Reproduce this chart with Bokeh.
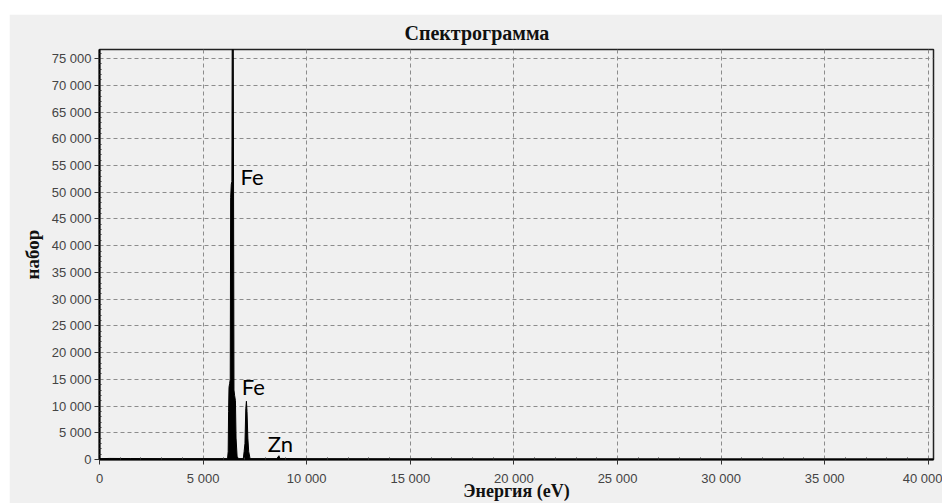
from bokeh.plotting import figure
from bokeh.models import ColumnDataSource, Range1d, FixedTicker, Title
from bokeh.core.properties import value
from bokeh.embed import file_html
from bokeh.resources import INLINE

# spectrum (energy in eV, counts)
energy = [0, 500, 1500, 3000, 5000, 6180, 6210, 6230, 6250, 6280, 6310, 6330, 6360, 6390,
          6410, 6450, 6470, 6490, 6520, 6560, 6590, 6640, 6700,
          6940, 6980, 7020, 7060, 7090, 7120, 7160, 7200, 7260, 7300,
          8560, 8620, 8660, 8700, 10000, 15000, 20000, 30000, 40000, 40250]
counts = [150, 200, 180, 150, 150, 150, 1500, 9000, 13500, 14200, 15000, 49000, 51500, 52000,
          90000, 90000, 50000, 13000, 12000, 11000, 4000, 600, 150,
          150, 1500, 3000, 9500, 10900, 9000, 4000, 1500, 300, 150,
          150, 500, 700, 200, 120, 100, 80, 60, 50, 50]

# peak annotations (anchored at the vertical middle of the text)
peak_names = ["Fe", "Fe", "Zn"]
peak_x = [6810, 6860, 8120]
peak_y = [52900, 13700, 3000]

x_ticks = [0, 5000, 10000, 15000, 20000, 25000, 30000, 35000, 40000]
x_tick_labels = ["0", "5 000", "10 000", "15 000", "20 000", "25 000", "30 000", "35 000", "40 000"]
y_ticks = [0, 5000, 10000, 15000, 20000, 25000, 30000, 35000, 40000, 45000, 50000, 55000,
           60000, 65000, 70000, 75000]
y_tick_labels = ["0", "5 000", "10 000", "15 000", "20 000", "25 000", "30 000", "35 000",
                 "40 000", "45 000", "50 000", "55 000", "60 000", "65 000", "70 000", "75 000"]

BG = "#f0f0f0"

p = figure(width=933, height=489, output_backend="svg", toolbar_location=None,
           x_range=Range1d(0, 40250), y_range=Range1d(0, 76700),
           min_border_left=90, min_border_right=9, min_border_top=35, min_border_bottom=44)
p.margin = (14, 0, 0, 9)
p.background_fill_color = BG
p.border_fill_color = BG
p.outline_line_color = "#222222"
p.outline_line_width = 1.5

p.title = Title(text="Спектрограмма", align="left", offset=305, vertical_align="middle",
                text_font="Liberation Serif", text_font_size="20px",
                text_font_style="bold", text_color="#111111", standoff=10,
                text_line_height=0.9)

src = ColumnDataSource(dict(x=energy, y=counts))
p.varea(x="x", y1=0, y2="y", source=src, fill_color="black")
p.line(x="x", y="y", source=src, line_color="black", line_width=1)

lsrc = ColumnDataSource(dict(x=peak_x, y=peak_y, t=peak_names))
p.text(x="x", y="y", text="t", source=lsrc, text_font=value("Lato"),
       text_font_size="22px", text_color="black", text_baseline="middle")

for ax, ticks, labels in ((p.xaxis[0], x_ticks, x_tick_labels), (p.yaxis[0], y_ticks, y_tick_labels)):
    ax.ticker = FixedTicker(ticks=ticks, minor_ticks=[t + d for t in ticks for d in (1000, 2000, 3000, 4000)])
    ax.major_label_overrides = dict(zip(ticks, labels))
    ax.axis_line_color = "black"
    ax.axis_line_width = 2
    ax.major_tick_line_color = "#333333"
    ax.major_tick_out = 5
    ax.major_tick_in = 0
    ax.minor_tick_line_color = "#333333"
    ax.minor_tick_out = 0
    ax.minor_tick_in = 2
    ax.major_label_text_font = "Liberation Sans Narrow, Liberation Sans"
    ax.major_label_text_font_size = "13px"
    ax.major_label_text_color = "#444444"
    ax.axis_label_text_font = "Liberation Serif"
    ax.axis_label_text_font_style = "bold"
    ax.axis_label_text_color = "#111111"

p.xaxis.major_label_standoff = 6
p.xaxis.axis_label = "Энергия (eV)"
p.xaxis.axis_label_text_font_size = "18px"
p.xaxis.axis_label_standoff = -8

p.yaxis.major_label_standoff = 3
p.yaxis.axis_label = "набор"
p.yaxis.axis_label_text_font_size = "19px"
p.yaxis.axis_label_standoff = 6

p.grid.grid_line_color = "#8c8c8c"
p.grid.grid_line_dash = "4 3"
p.grid.grid_line_width = 1

open("out.html", "w").write(file_html(p, INLINE))
